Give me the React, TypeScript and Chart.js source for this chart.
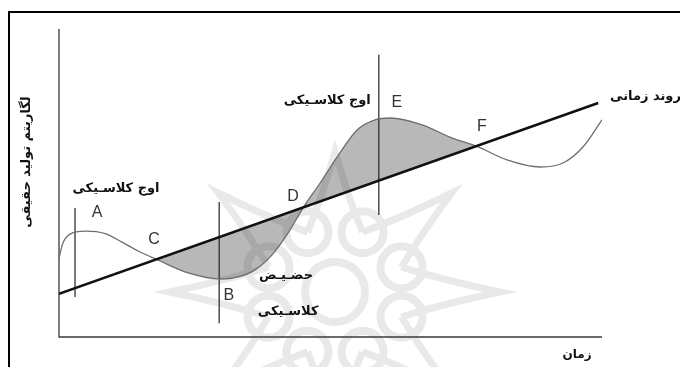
import React, { useEffect, useRef } from "react";
import { Chart, registerables } from "chart.js";

Chart.register(...registerables);

// Business-cycle curve
const cycleX = [0, 0.7, 2.0, 4.8, 8.5, 11.6, 14.5, 18.2, 23.8, 29.8, 33.0, 36.1, 39.2, 42.2, 45.3, 48.1, 51.2, 54.9, 58.2, 61.0, 67.0, 72.0, 77.2, 82.5, 88.6, 92.8, 96.5, 100];
const cycleY = [25.6, 30.4, 33.4, 34.4, 33.6, 30.8, 28.0, 25.0, 20.8, 18.8, 19.5, 21.8, 26.6, 33.8, 42.9, 50.0, 58.4, 67.2, 70.5, 71.1, 68.8, 64.9, 61.7, 57.5, 55.2, 56.5, 61.7, 70.5];

// Long-run trend line
const trendX = [0, 99.3];
const trendY = [14.0, 76.0];

// Shaded interval (between crossings C and F)
const shadeRange = [18.2, 77.2];

// Vertical markers at A, B, E
const markerX = [2.95, 29.5, 58.9];
const markerTop = [41.9, 43.8, 91.6];
const markerBottom = [13.0, 4.5, 39.6];

// Point letters
const letterText = ["A", "C", "B", "D", "E", "F"];
const letterX = [7.0, 17.5, 31.3, 43.1, 62.2, 77.9];
const letterY = [40.3, 31.5, 13.6, 45.5, 76.0, 68.2];

// Persian annotations
const noteText = ["اوج کلاسـیکی", "اوج کلاسـیکی", "حضـیـض", "کلاسـیکی"];
const noteX = [10.5, 49.4, 41.8, 42.2];
const noteY = [48.1, 76.6, 19.8, 8.1];

const trendLabel = "روند زمانی";
const xTitle = "زمان";
const yTitle = "لگاریتم تولید حقیقی";

const PERSIAN_FONT = "'DejaVu Sans', sans-serif";

const decorPlugin = {
  id: "decor",
  beforeDraw(chart: any) {
    const { ctx, width, height } = chart;
    ctx.save();
    ctx.fillStyle = "#ffffff";
    ctx.fillRect(0, 0, width, height);
    // frame
    ctx.strokeStyle = "#000";
    ctx.lineWidth = 2;
    ctx.beginPath();
    ctx.moveTo(9, height + 2);
    ctx.lineTo(9, 12);
    ctx.lineTo(width + 2, 12);
    ctx.stroke();
    // watermark rosette
    const cx = 335, cy = 292;
    ctx.strokeStyle = "#e9e9e9";
    ctx.lineWidth = 8;
    const rings: [number, number][] = [];
    for (let i = 0; i < 8; i++) {
      const a = (i * Math.PI) / 4 + Math.PI / 8;
      rings.push([cx + 72 * Math.cos(a), cy + 72 * Math.sin(a) * 0.9]);
    }
    rings.forEach(([rx, ry]) => {
      ctx.beginPath();
      ctx.arc(rx, ry, 21, 0, Math.PI * 2);
      ctx.stroke();
    });
    ctx.beginPath();
    ctx.arc(cx, cy, 30, 0, Math.PI * 2);
    ctx.stroke();
    ctx.lineWidth = 7;
    for (let i = 0; i < 8; i++) {
      const a = (i * Math.PI) / 4 + Math.PI / 4;
      const tx = cx + 165 * Math.cos(a);
      const ty = cy + 140 * Math.sin(a);
      const [r1x, r1y] = rings[i];
      const [r2x, r2y] = rings[(i + 1) % 8];
      ctx.beginPath();
      ctx.moveTo(r1x, r1y);
      ctx.quadraticCurveTo(cx + 110 * Math.cos(a - 0.12), cy + 95 * Math.sin(a - 0.12), tx, ty);
      ctx.quadraticCurveTo(cx + 110 * Math.cos(a + 0.12), cy + 95 * Math.sin(a + 0.12), r2x, r2y);
      ctx.stroke();
    }
    ctx.restore();
  },
  beforeDatasetsDraw(chart: any) {
    const { ctx, chartArea } = chart;
    const xs = chart.scales.x;
    const ys = chart.scales.y;
    // shading between cycle and trend
    const meta = chart.getDatasetMeta(1);
    const line = meta.dataset;
    if (line && line.updateControlPoints) line.updateControlPoints(chartArea, "x");
    const x0 = xs.getPixelForValue(shadeRange[0]);
    const x1 = xs.getPixelForValue(shadeRange[1]);
    ctx.save();
    ctx.beginPath();
    ctx.rect(x0, 0, x1 - x0, chart.height);
    ctx.clip();
    ctx.beginPath();
    line.path(ctx);
    ctx.lineTo(xs.getPixelForValue(trendX[1]), ys.getPixelForValue(trendY[1]));
    ctx.lineTo(xs.getPixelForValue(trendX[0]), ys.getPixelForValue(trendY[0]));
    ctx.closePath();
    ctx.fillStyle = "rgba(0,0,0,0.28)";
    ctx.fill();
    ctx.restore();
    // axes
    ctx.save();
    ctx.strokeStyle = "#3a3a3a";
    ctx.lineWidth = 1.3;
    ctx.beginPath();
    ctx.moveTo(chartArea.left, chartArea.top);
    ctx.lineTo(chartArea.left, chartArea.bottom);
    ctx.lineTo(chartArea.right, chartArea.bottom);
    ctx.stroke();
    ctx.restore();
  },
  afterDatasetsDraw(chart: any) {
    const { ctx, chartArea } = chart;
    const xs = chart.scales.x;
    const ys = chart.scales.y;
    ctx.save();
    ctx.textAlign = "center";
    ctx.textBaseline = "middle";
    ctx.fillStyle = "#333";
    ctx.font = "16px 'Liberation Sans', Arial, sans-serif";
    letterText.forEach((t, i) => {
      ctx.fillText(t, xs.getPixelForValue(letterX[i]), ys.getPixelForValue(letterY[i]));
    });
    ctx.fillStyle = "#111";
    ctx.font = "bold 13px " + PERSIAN_FONT;
    noteText.forEach((t, i) => {
      ctx.fillText(t, xs.getPixelForValue(noteX[i]), ys.getPixelForValue(noteY[i]));
    });
    // trend label
    ctx.textAlign = "left";
    ctx.fillText(trendLabel, chartArea.right + 8, ys.getPixelForValue(trendY[1]) - 6);
    // x title
    ctx.textAlign = "center";
    ctx.font = "bold 12px " + PERSIAN_FONT;
    ctx.fillText(xTitle, chartArea.right - 25, chartArea.bottom + 18);
    // y title
    ctx.font = "bold 13px " + PERSIAN_FONT;
    ctx.translate(chartArea.left - 32, (chartArea.top + chartArea.bottom) / 2 - 21);
    ctx.rotate(-Math.PI / 2);
    ctx.fillText(yTitle, 0, 0);
    ctx.restore();
  },
};

export default function App() {
  const ref = useRef<HTMLCanvasElement | null>(null);
  useEffect(() => {
    if (!ref.current) return;
    const mk = (xsArr: number[], ysArr: number[]) => xsArr.map((x, i) => ({ x, y: ysArr[i] }));
    const chart = new Chart(ref.current, {
      type: "line",
      data: {
        datasets: [
          {
            data: mk(trendX, trendY),
            borderColor: "#111",
            borderWidth: 2.6,
            pointRadius: 0,
            tension: 0,
            fill: false,
          },
          {
            data: mk(cycleX, cycleY),
            borderColor: "#6e6e6e",
            borderWidth: 1.3,
            pointRadius: 0,
            cubicInterpolationMode: "monotone",
            fill: false,
          },
          ...markerX.map((mx, i) => ({
            data: [
              { x: mx, y: markerBottom[i] },
              { x: mx, y: markerTop[i] },
            ],
            borderColor: "#222",
            borderWidth: 1.2,
            pointRadius: 0,
            fill: false,
          })),
        ],
      },
      options: {
        animation: false,
        responsive: false,
        devicePixelRatio: 1,
        layout: { padding: { left: 59, top: 29, right: 78, bottom: 30 } },
        plugins: { legend: { display: false }, tooltip: { enabled: false } },
        scales: {
          x: { type: "linear", min: 0, max: 100, display: false },
          y: { type: "linear", min: 0, max: 100, display: false },
        },
      } as any,
      plugins: [decorPlugin],
    });
    return () => chart.destroy();
  }, []);
  return (
    <div style={{ position: "fixed", left: 0, top: 0, width: 680, height: 367 }}>
      <canvas ref={ref} width={680} height={367} style={{ display: "block" }} />
    </div>
  );
}
